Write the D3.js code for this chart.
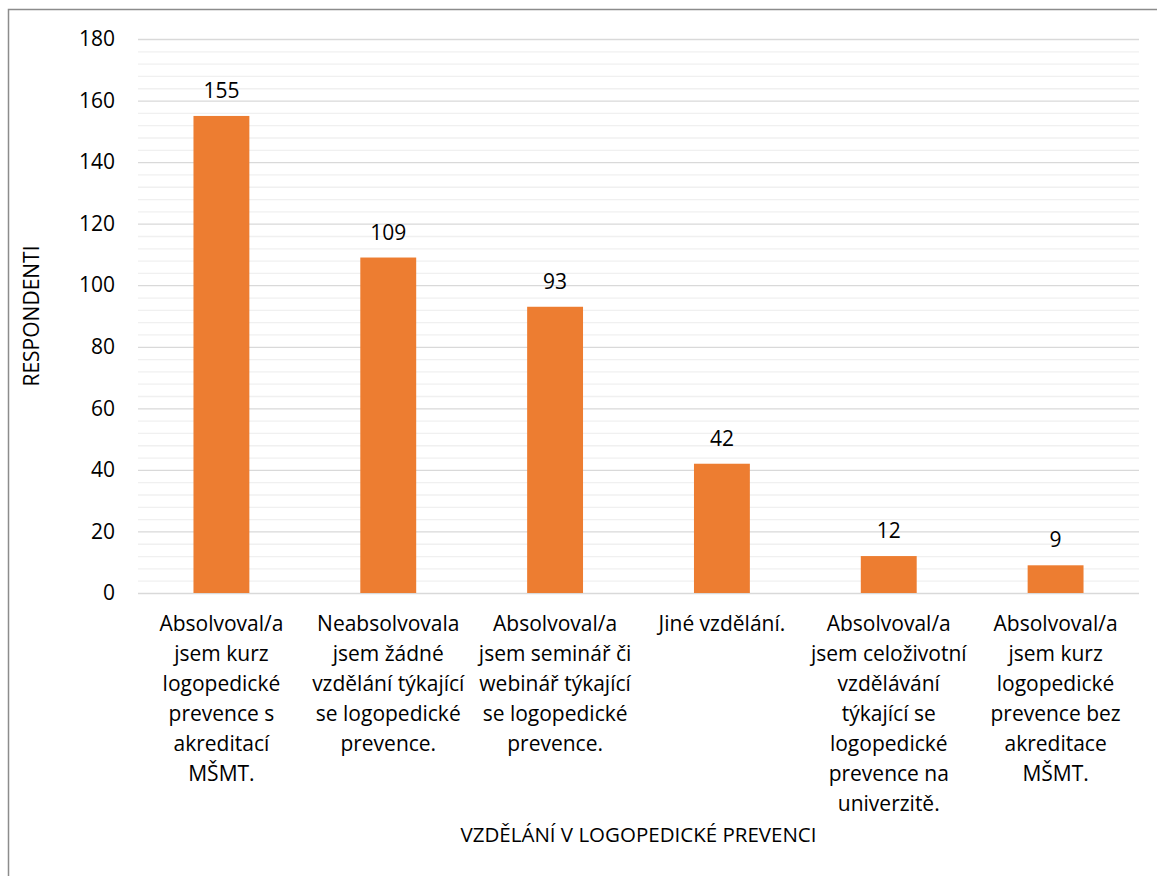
<!DOCTYPE html>
<html lang="cs">
<head>
<meta charset="UTF-8">
<title>Vzdělání v logopedické prevenci</title>
<script src="https://cdn.jsdelivr.net/npm/d3@7"></script>
<style>
body { margin: 0; background: #fff; }
svg { display: block; font-family: "Open Sans", sans-serif; }
.tick text { fill: #000; }
</style>
</head>
<body>
<svg width="1157" height="876"></svg>
<script>
// data
var categories = [
	["Absolvoval/a", "jsem kurz", "logopedické", "prevence s", "akreditací", "MŠMT."],
	["Neabsolvovala", "jsem žádné", "vzdělání týkající", "se logopedické", "prevence."],
	["Absolvoval/a", "jsem seminář či", "webinář týkající", "se logopedické", "prevence."],
	["Jiné vzdělání."],
	["Absolvoval/a", "jsem celoživotní", "vzdělávání", "týkající se", "logopedické", "prevence na", "univerzitě."],
	["Absolvoval/a", "jsem kurz", "logopedické", "prevence bez", "akreditace", "MŠMT."]
];
var values = [155, 109, 93, 42, 12, 9];
var yTicks = [0, 20, 40, 60, 80, 100, 120, 140, 160, 180];
var yMinor = [4, 8, 12, 16, 24, 28, 32, 36, 44, 48, 52, 56, 64, 68, 72, 76, 84, 88, 92, 96,
	104, 108, 112, 116, 124, 128, 132, 136, 144, 148, 152, 156, 164, 168, 172, 176];
var xTitle = "VZDĚLÁNÍ V LOGOPEDICKÉ PREVENCI";
var yTitle = "RESPONDENTI";

var svg = d3.select("svg"),
	margin = {top: 39, right: 18, bottom: 283, left: 138},
	width = +svg.attr("width") - margin.left - margin.right,
	height = +svg.attr("height") - margin.top - margin.bottom;

// outer frame (right and bottom edges run off the picture)
svg.append("rect")
	.attr("x", 8.5).attr("y", 9.5)
	.attr("width", 1170).attr("height", 900)
	.attr("fill", "none")
	.attr("stroke", "#8c8c8c")
	.attr("stroke-width", 1.5);

var g = svg.append("g").attr("transform", "translate(" + margin.left + "," + margin.top + ")");

var idx = d3.range(values.length);
var x = d3.scaleBand().domain(idx).range([0, width]).paddingInner(0.665).paddingOuter(0.3325);
var y = d3.scaleLinear().domain([0, 180]).range([height, 0]);

// minor grid
g.append("g")
	.attr("class", "grid-minor")
	.call(d3.axisLeft(y).tickValues(yMinor).tickSize(-width).tickFormat(""))
	.call(function(s) { s.select(".domain").remove(); })
	.selectAll("line").attr("stroke", "#f0f0f0").attr("stroke-width", 1.3);

// major grid
g.append("g")
	.attr("class", "grid-major")
	.call(d3.axisLeft(y).tickValues(yTicks).tickSize(-width).tickFormat(""))
	.call(function(s) { s.select(".domain").remove(); })
	.selectAll("line").attr("stroke", "#d9d9d9").attr("stroke-width", 1.3);

// y axis labels
g.append("g")
	.attr("class", "axis axis--y")
	.call(d3.axisLeft(y).tickValues(yTicks).tickSize(0).tickPadding(23))
	.call(function(s) { s.select(".domain").remove(); })
	.selectAll("text")
	.attr("font-size", "21px")
	.attr("font-family", "Open Sans, sans-serif");

// bars
g.selectAll(".bar")
	.data(values)
	.enter().append("rect")
	.attr("class", "bar")
	.attr("fill", "#ed7d31")
	.attr("x", function(d, i) { return x(i); })
	.attr("width", x.bandwidth())
	.attr("y", function(d) { return y(d); })
	.attr("height", function(d) { return height - y(d); });

// value labels
g.selectAll(".val")
	.data(values)
	.enter().append("text")
	.attr("class", "val")
	.attr("x", function(d, i) { return x(i) + x.bandwidth() / 2; })
	.attr("y", function(d) { return y(d) - 18; })
	.attr("text-anchor", "middle")
	.attr("font-size", "21px")
	.text(function(d) { return d; });

// category labels
var cat = g.selectAll(".cat")
	.data(categories)
	.enter().append("text")
	.attr("class", "cat")
	.attr("text-anchor", "middle")
	.attr("font-size", "21px")
	.attr("transform", function(d, i) { return "translate(" + (x(i) + x.bandwidth() / 2) + "," + (height + 38) + ")"; });
cat.selectAll("tspan")
	.data(function(d) { return d; })
	.enter().append("tspan")
	.attr("x", 0)
	.attr("y", function(d, j) { return j * 30; })
	.text(function(d) { return d; });

// axis titles
svg.append("text")
	.attr("x", margin.left + width / 2)
	.attr("y", 842)
	.attr("text-anchor", "middle")
	.attr("font-size", "20.5px")
	.text(xTitle);

svg.append("text")
	.attr("transform", "translate(39," + (margin.top + height / 2) + ") rotate(-90)")
	.attr("text-anchor", "middle")
	.attr("font-size", "21px")
	.text(yTitle);
</script>
</body>
</html>
